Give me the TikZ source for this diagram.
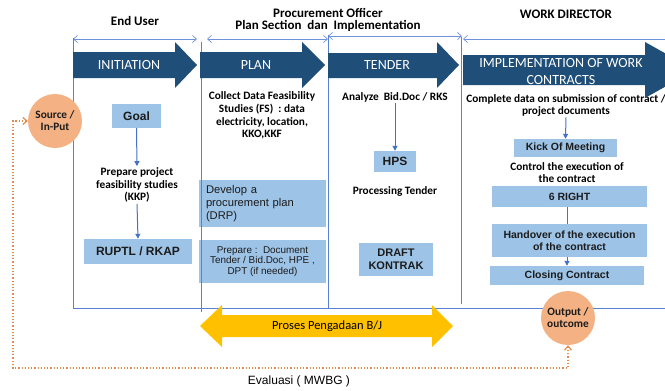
\documentclass[tikz,border=0pt]{standalone}
\usepackage{fontspec}
\setmainfont{Carlito}
\newfontfamily\arialf{Liberation Sans}
\usetikzlibrary{arrows.meta}
\definecolor{darkblue}{RGB}{31,78,121}
\definecolor{boxblue}{RGB}{157,195,230}
\definecolor{lineblue}{RGB}{88,128,212}
\definecolor{spanblue}{RGB}{112,146,218}
\definecolor{arrblue}{RGB}{68,114,196}
\definecolor{peach}{RGB}{244,177,131}
\definecolor{dotorange}{RGB}{222,140,80}
\definecolor{gold}{RGB}{255,192,0}
\definecolor{txt}{RGB}{28,28,28}
\begin{document}
\begin{tikzpicture}[x=1pt,y=-1pt,
  hdr/.style={font=\bfseries\fontsize{13}{11.5}\selectfont, text=black, align=center, inner sep=0pt},
  stage/.style={font=\fontsize{14}{17}\selectfont, text=white, align=center, inner sep=0pt},
  note/.style={font=\bfseries\fontsize{11.3}{12.8}\selectfont, text=black, align=center, inner sep=1pt},
  box/.style={fill=boxblue, draw=none, inner sep=0pt, text=txt, align=center,
    font=\arialf\bfseries\fontsize{10.5}{12.5}\selectfont},
  bigbox/.style={box, font=\arialf\bfseries\fontsize{12}{14}\selectfont},
  plainbox/.style={box, font=\arialf\fontsize{9.9}{10.6}\selectfont},
  colline/.style={draw=lineblue, line width=0.8pt},
  span/.style={draw=spanblue, line width=0.7pt, {Straight Barb[length=4pt,width=7pt]}-{Straight Barb[length=4pt,width=7pt]}},
  flow/.style={draw=arrblue, line width=1pt, -{Triangle[length=5pt,width=5pt]}},
  flowline/.style={draw=arrblue, line width=1pt},
  bubble/.style={circle, fill=peach, minimum size=54pt, inner sep=0pt, align=center,
    font=\bfseries\fontsize{11.3}{12}\selectfont, text=txt},
  evalarrow/.style={draw=dotorange, line width=1.2pt, dotted,
    {Straight Barb[length=4pt,width=7pt]}-{Straight Barb[length=4pt,width=7pt]}}
]
\useasboundingbox (0,0) rectangle (665,391);
\clip (0,0) rectangle (665,391);

% headers
\node[hdr] (hEU) at (135,21) {End User};
\node[hdr] (hPO) at (328,20) {Procurement Officer\\Plan Section\ \ dan\ \ Implementation};
\node[hdr] (hWD) at (566,14) {WORK DIRECTOR};

% span arrows
\draw[span] (73,39) -- (197,39);
\draw[span] (207,39) -- (328,39);
\draw[span] (328,36) -- (462,36);
\draw[draw=spanblue, line width=0.7pt, {Straight Barb[length=4pt,width=7pt]}-] (463,39) -- (665,39);

% boxes and texts
\node[box, minimum width=49pt, minimum height=24pt, font=\arialf\bfseries\fontsize{12}{14}\selectfont] (goal) at (136.5,116) {Goal};
\node[note] (kkp) at (137,185) {Prepare project\\feasibility studies\\(KKP)};
\node[bigbox, minimum width=108pt, minimum height=25pt] (ruptl) at (138,251.5) {RUPTL / RKAP};

\node[note] (collect) at (262,115.5) {Collect Data Feasibility\\Studies (FS)\ \ : data\\electricity, location,\\KKO,KKF};
\node[box, minimum width=127pt, minimum height=47pt, text width=113pt, align=left,
  font=\arialf\fontsize{11.2}{13}\selectfont] (drp) at (262.5,203.5) {Develop a\\procurement plan\\(DRP)};
\node[plainbox, minimum width=127pt, minimum height=43pt] (prep) at (262.5,261.5) {Prepare :\ \ Document\\Tender / Bid.Doc, HPE ,\\DPT (if needed)};

\node[note] (analyze) at (395,97) {Analyze\ \ Bid.Doc / RKS};
\node[box, minimum width=42pt, minimum height=21pt, font=\arialf\bfseries\fontsize{12}{14}\selectfont] (hps) at (395,161.5) {HPS};
\node[note] (proc) at (395,191) {Processing Tender};
\node[box, minimum width=74pt, minimum height=33pt, font=\arialf\bfseries\fontsize{11}{12.5}\selectfont] (draft) at (396,259.5) {DRAFT\\KONTRAK};

\node[note, font=\bfseries\fontsize{11.3}{11.5}\selectfont] (complete) at (566,105.5) {Complete data on submission of contract /\\project documents};
\node[box, minimum width=103pt, minimum height=18pt] (kick) at (565.5,148) {Kick Of Meeting};
\node[note, font=\bfseries\fontsize{11.3}{12}\selectfont] (control) at (567,173) {Control the execution of\\the contract};
\node[box, minimum width=155pt, minimum height=21pt] (right6) at (569.5,196.5) {6 RIGHT};
\node[box, minimum width=155pt, minimum height=33pt] (handover) at (569.5,240.5) {Handover of the execution\\of the contract};
\node[box, minimum width=154pt, minimum height=19pt] (closing) at (567,275.5) {Closing Contract};

% flow connectors
\draw[flow] (goal.south) -- (kkp.north);
\draw[flow] (kkp.south) -- (ruptl.north);
\draw[flow] (analyze.south) -- (hps.north);
\draw[flow] (complete.south) -- (kick.north);
\draw[flowline] (right6.south -| 567,0) -- (handover.north -| 567,0);
\draw[flow] (handover.south -| 567,0) -- (closing.north -| 567,0);

% column lines
\draw[colline] (73,38) -- (73,308) -- (665,308);
\draw[colline] (201,42) -- (201,312);
\draw[colline] (328,35) -- (328,308);
\draw[colline] (461,37) -- (461,304);

% stage arrows
\fill[darkblue] (73,52) -- (175,52) -- (175,42) -- (197,65) -- (175,88) -- (175,78) -- (73,78) -- cycle;
\fill[darkblue] (200,52) -- (302,52) -- (302,42) -- (325,65) -- (302,88) -- (302,78) -- (200,78) -- cycle;
\fill[darkblue] (328,53) -- (437,53) -- (437,42) -- (459,65) -- (437,88) -- (437,78) -- (328,78) -- cycle;
\fill[darkblue] (463,55) -- (645,55) -- (645,42) -- (695,70) -- (645,98) -- (645,85) -- (463,85) -- cycle;
\node[stage] (sInit) at (129,65) {INITIATION};
\node[stage] (sPlan) at (256,65) {PLAN};
\node[stage] (sTender) at (387,65) {TENDER};
\node[stage, font=\fontsize{14}{17.5}\selectfont] (sImpl) at (561,71.5) {IMPLEMENTATION OF WORK\\CONTRACTS};

% yellow double arrow
\fill[gold] (200,326) -- (222,305) -- (222,315) -- (432,315) -- (432,305) -- (453,326) -- (432,347) -- (432,337) -- (222,337) -- (222,347) -- cycle;
\node[font=\fontsize{12.5}{14}\selectfont, text=black] (proses) at (327,326) {Proses Pengadaan B/J};

% source / output
\node[bubble] (src) at (55,121) {Source /\\In-Put};
\node[bubble] (output) at (568,318) {Output /\\outcome};

% evaluation loop
\coordinate (ev) at (13,368);
\draw[evalarrow] (src.west) -| (ev) -| (output.south);
\node[font=\arialf\fontsize{12}{14}\selectfont, text=black] (evaltxt) at (299,381) {Evaluasi ( MWBG )};
\end{tikzpicture}
\end{document}
